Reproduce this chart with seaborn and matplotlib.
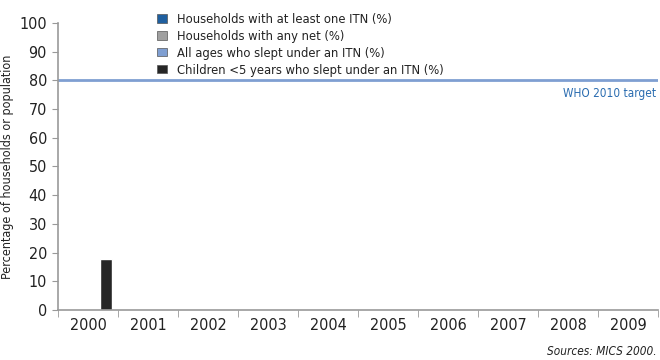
import matplotlib
matplotlib.use('Agg')
import pandas as pd
import matplotlib.pyplot as plt
import numpy as np
import seaborn as sns
from matplotlib.patches import Patch

years = ['2000', '2001', '2002', '2003', '2004', '2005', '2006', '2007', '2008', '2009']
series = ['Households with at least one ITN (%)',
          'Households with any net (%)',
          'All ages who slept under an ITN (%)',
          'Children <5 years who slept under an ITN (%)']
hh_itn = [np.nan] * 10
hh_any = [np.nan] * 10
all_itn = [np.nan] * 10
child_itn = [17.8] + [np.nan] * 9
who_target = 80
colors = ['#1f5f9f', '#a0a0a0', '#7f9fd2', '#262626']

rows = []
for s, vals in zip(series, [hh_itn, hh_any, all_itn, child_itn]):
    for y, v in zip(years, vals):
        rows.append({'year': y, 'series': s, 'value': v})
df = pd.DataFrame(rows)

sns.set_style('white')
plt.rcParams['font.family'] = ['DejaVu Sans']
plt.rcParams['font.stretch'] = 'condensed'
plt.rcParams['text.color'] = '#222222'

fig = plt.figure(figsize=(6.6, 3.6), dpi=100)
ax = fig.add_axes([0.088, 0.139, 0.909, 0.797])

sns.barplot(data=df, x='year', y='value', hue='series', order=years,
            hue_order=series, palette=colors, width=0.8, saturation=1,
            legend=False, ax=ax)

ax.axhline(who_target, color='#7f9fd2', lw=2, zorder=1)
ax.text(9.47, who_target - 2.3, 'WHO 2010 target', color='#2a6cb0',
        ha='right', va='top', fontsize=8.5)

ax.set_xlim(-0.5, 9.5)
ax.set_ylim(0, 100)
ax.set_yticks(range(0, 101, 10))
ax.tick_params(axis='y', length=4, color='#999999', labelsize=11.5, pad=4,
               left=True, labelcolor='#222222')
ax.tick_params(axis='x', length=0, labelsize=11.5, pad=6, labelcolor='#222222')
ax.set_xticks(np.arange(-0.5, 10, 1), minor=True)
ax.tick_params(axis='x', which='minor', length=5, color='#999999', bottom=True)
for s in ['top', 'right']:
    ax.spines[s].set_visible(False)
for s in ['left', 'bottom']:
    ax.spines[s].set_color('#999999')
    ax.spines[s].set_linewidth(1.2)
ax.set_xlabel('')
ax.set_ylabel('Percentage of households or population', fontsize=9,
              labelpad=4, color='#222222')

handles = [Patch(facecolor=c, edgecolor='#555555', lw=0.5) for c in colors]
ax.legend(handles, series, loc='upper left', bbox_to_anchor=(0.145, 1.075),
          frameon=False, fontsize=9.3, handlelength=0.8, handleheight=0.6,
          handletextpad=0.8, labelspacing=0.3)

fig.text(0.995, 0.005, 'Sources: MICS 2000.', ha='right', va='bottom',
         fontsize=8.5, style='italic')

fig.savefig('out.png', dpi=100)
